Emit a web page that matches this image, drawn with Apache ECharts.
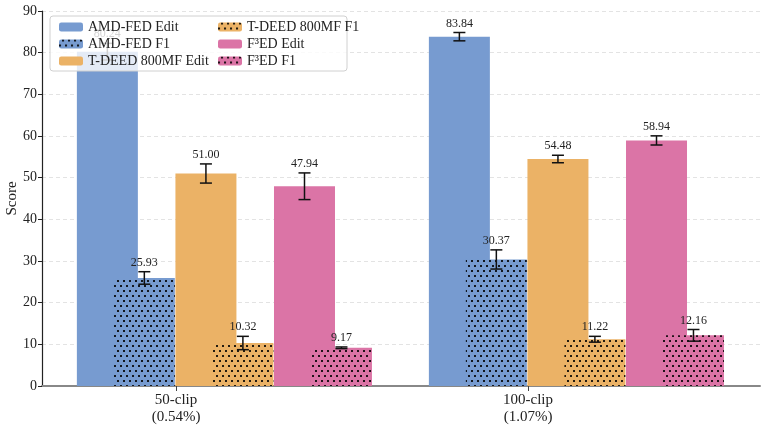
<!DOCTYPE html>
<html>
<head>
<meta charset="utf-8">
<script src="https://cdn.jsdelivr.net/npm/echarts@6/dist/echarts.min.js"></script>
<style>
  html, body { margin: 0; padding: 0; background: #fff; }
  #chart { width: 767px; height: 445px; }
</style>
</head>
<body>
<div id="chart"></div>
<script>
// groups on the x axis
const categories = ['50-clip\n(0.54%)', '100-clip\n(1.07%)']

// scores and std (error bar half width) per group
const amdEdit = [80.24, 83.84]
const amdEditErr = [2.0, 1.0]
const amdF1 = [25.93, 30.37]
const amdF1Err = [1.5, 2.3]
const tdeedEdit = [51.00, 54.48]
const tdeedEditErr = [2.3, 0.9]
const tdeedF1 = [10.32, 11.22]
const tdeedF1Err = [1.6, 0.7]
const f3edEdit = [47.94, 58.94]
const f3edEditErr = [3.2, 1.1]
const f3edF1 = [9.17, 12.16]
const f3edF1Err = [0.2, 1.4]

const yTicks = [0, 10, 20, 30, 40, 50, 60, 70, 80, 90]

const FONT = '"Liberation Serif", "DejaVu Serif", serif'
const BLUE = '#779BD0'
const ORANGE = '#EBB266'
const PINK = '#DB74A6'

// bar placement (x axis units, one unit = one group)
const firstOffset = -0.195
const methodPitch = 0.28
const f1Shift = 0.105

const dotDecal = {
  symbol: 'rect',
  symbolSize: 1,
  color: 'rgba(0,0,0,0.85)',
  dashArrayX: [[1.5, 3.5], [0, 2.5, 1.5, 1]],
  dashArrayY: [1.5, 2.5],
  rotation: 0,
}

const seriesDefs = [
  { name: 'AMD-FED Edit', values: amdEdit, err: amdEditErr, color: BLUE, slot: 0, f1: false },
  { name: 'AMD-FED F1', values: amdF1, err: amdF1Err, color: BLUE, slot: 0, f1: true },
  { name: 'T-DEED 800MF Edit', values: tdeedEdit, err: tdeedEditErr, color: ORANGE, slot: 1, f1: false },
  { name: 'T-DEED 800MF F1', values: tdeedF1, err: tdeedF1Err, color: ORANGE, slot: 1, f1: true },
  { name: 'F³ED Edit', values: f3edEdit, err: f3edEditErr, color: PINK, slot: 2, f1: false },
  { name: 'F³ED F1', values: f3edF1, err: f3edF1Err, color: PINK, slot: 2, f1: true },
]

function xPos(groupIdx, def) {
  return groupIdx + firstOffset + def.slot * methodPitch + (def.f1 ? f1Shift : 0)
}

const barSeries = seriesDefs.map(def => ({
  name: def.name,
  type: 'bar',
  barWidth: 61,
  barGap: '-100%',
  data: def.values.map((v, i) => [xPos(i, def), v]),
  itemStyle: {
    color: def.color,
    decal: def.f1 ? dotDecal : null,
  },
  emphasis: { disabled: true },
}))

// error bars + value labels
const errData = []
seriesDefs.forEach(def => {
  def.values.forEach((v, i) => {
    errData.push([xPos(i, def), v, def.err[i]])
  })
})

const errSeries = {
  type: 'custom',
  z: 5,
  silent: true,
  encode: { x: 0, y: 1 },
  data: errData,
  renderItem: (params, api) => {
    const x = api.value(0)
    const v = api.value(1)
    const e = api.value(2)
    const top = api.coord([x, v + e])
    const bot = api.coord([x, v - e])
    const cap = 6
    const lineStyle = { stroke: '#111', lineWidth: 1.5 }
    return {
      type: 'group',
      children: [
        { type: 'line', shape: { x1: top[0], y1: top[1], x2: bot[0], y2: bot[1] }, style: lineStyle },
        { type: 'line', shape: { x1: top[0] - cap, y1: top[1], x2: top[0] + cap, y2: top[1] }, style: lineStyle },
        { type: 'line', shape: { x1: bot[0] - cap, y1: bot[1], x2: bot[0] + cap, y2: bot[1] }, style: lineStyle },
        {
          type: 'text',
          style: {
            text: v.toFixed(2),
            x: top[0],
            y: top[1] - 3,
            align: 'center',
            verticalAlign: 'bottom',
            font: '12px ' + FONT,
            fill: '#222',
          },
        },
      ],
    }
  },
}

const chart = echarts.init(document.getElementById('chart'), null, { renderer: 'canvas' })

const legendCommon = {
  orient: 'vertical',
  top: 15,
  itemWidth: 24,
  itemHeight: 9,
  itemGap: 3,
  z: 11,
  selectedMode: false,
  textStyle: { fontFamily: FONT, fontSize: 14, color: '#222' },
}

chart.setOption({
  backgroundColor: '#fff',
  animation: false,
  grid: { left: 42, right: 7, top: 11, bottom: 59, containLabel: false, outerBoundsMode: 'none' },
  xAxis: {
    type: 'value',
    min: -0.3807,
    max: 1.659,
    splitLine: { show: false },
    axisLine: { show: true, onZero: false, lineStyle: { color: '#888', width: 2 } },
    axisTick: { show: true, customValues: [0, 1], length: 5, lineStyle: { color: '#444', width: 1 } },
    axisLabel: {
      customValues: [0, 1],
      formatter: v => categories[Math.round(v)],
      fontFamily: FONT,
      fontSize: 15,
      color: '#222',
      lineHeight: 17,
      margin: 6,
    },
  },
  yAxis: {
    type: 'value',
    min: yTicks[0],
    max: yTicks[yTicks.length - 1],
    interval: 10,
    name: 'Score',
    nameLocation: 'middle',
    nameGap: 22,
    nameMoveOverlap: false,
    nameTextStyle: { fontFamily: FONT, fontSize: 15, color: '#222' },
    axisLine: { show: true, onZero: false, lineStyle: { color: '#222', width: 1.2 } },
    axisTick: { show: true, length: 4, lineStyle: { color: '#222' } },
    axisLabel: { fontFamily: FONT, fontSize: 14, color: '#222', margin: 5 },
    splitLine: { show: true, lineStyle: { color: '#dcdcdc', type: [4, 3], width: 0.8 } },
  },
  legend: [
    Object.assign({ data: seriesDefs.slice(0, 3).map(d => d.name), left: 54 }, legendCommon),
    Object.assign({ data: seriesDefs.slice(3).map(d => d.name), left: 213 }, legendCommon),
  ],
  graphic: [
    {
      type: 'rect',
      z: 10,
      silent: true,
      shape: { x: 50, y: 16, width: 297, height: 55, r: 3 },
      style: { fill: 'rgba(255,255,255,0.8)', stroke: '#d0d0d0', lineWidth: 1 },
    },
  ],
  series: [...barSeries, errSeries],
})
</script>
</body>
</html>
